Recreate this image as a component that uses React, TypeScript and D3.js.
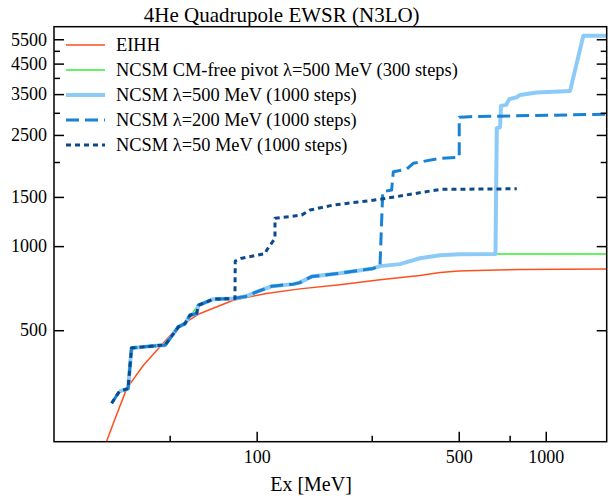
import { useEffect, useRef } from "react";
import * as d3 from "d3";

const W = 612;
const H = 498;
const PLOT = { left: 54, right: 606.7, top: 26.7, bottom: 441.7 };
const FONT = "Liberation Serif, DejaVu Serif, Times, serif";

// axis ticks
const xMajor = [100, 500, 1000];
const xMinor = [50, 250, 750];
const yMajor = [500, 1000, 1500, 2500, 3500, 4500, 5500];
const yMinor = [2000, 3000, 4000, 5000];

// [Ex MeV, EWSR]
const eihh = [
  [30.2, 199], [31.9, 232], [35.5, 309], [40.5, 374], [46.3, 436], [53.5, 514],
  [63.7, 574], [83, 640], [108, 677], [141, 703], [194, 728], [267, 758],
  [367, 785], [431, 805], [500, 814], [625, 820], [815, 825], [1626, 828],
];

const cmFree = [
  [33.5, 302], [35.9, 309], [36.9, 432], [46.9, 442], [48.2, 442], [53.6, 514],
  [56.5, 528], [62, 605], [62.8, 614], [70.8, 646], [83, 649], [92.3, 664],
  [100, 688], [113, 719], [134, 731], [141, 740], [155, 778], [194, 800],
  [253, 832], [267, 848], [313, 862], [367, 905], [431, 928], [505, 936],
  [668, 938], [1626, 938],
];

const ncsm500 = [
  [33.5, 302], [35.9, 309], [36.9, 432], [46.9, 442], [48.2, 442], [53.6, 514],
  [56.5, 528], [58.8, 566], [62, 574], [62.8, 614], [70.8, 646], [83, 649],
  [92.3, 662], [100, 686], [113, 719], [134, 731], [141, 740], [155, 778],
  [194, 800], [253, 832], [267, 848], [313, 862], [367, 905], [431, 928],
  [505, 936], [670, 938], [677, 2642], [695, 2663], [700, 3176], [729, 3202],
  [748, 3357], [794, 3412], [815, 3477], [931, 3544], [1214, 3594],
  [1349, 5658], [1626, 5658],
];

const ncsm200 = [
  [31.5, 274], [33.5, 302], [35.9, 309], [36.9, 432], [46.9, 442], [48.2, 442],
  [53.6, 514], [56.5, 528], [58.8, 566], [62, 574], [62.8, 614], [70.8, 646],
  [83, 649], [92.3, 662], [100, 686], [113, 719], [134, 731], [141, 740],
  [155, 778], [194, 800], [253, 832], [267, 850], [273, 1565], [293, 1588],
  [297, 1846], [330, 1883], [348, 1979], [431, 2062], [502, 2079],
  [502, 2893], [547, 2907], [1626, 2965],
];

const ncsm50 = [
  [31.5, 274], [33.5, 302], [35.9, 309], [36.9, 432], [46.9, 442], [48.2, 442],
  [53.6, 514], [56.5, 528], [58.8, 566], [62, 574], [62.8, 614], [70.8, 646],
  [84.1, 649], [84.3, 884], [88, 903], [107, 941], [108.3, 968], [115.7, 1066],
  [115.7, 1257], [143, 1291], [153, 1346], [184, 1403], [267, 1470],
  [431, 1596], [794, 1604],
];

const series = [
  { label: "EIHH", data: eihh, color: "#ff4f1f", width: 1.5, dash: null },
  { label: "NCSM CM-free pivot \u03bb=500 MeV (300 steps)", data: cmFree, color: "#33ee33", width: 1.5, dash: null },
  { label: "NCSM \u03bb=500 MeV (1000 steps)", data: ncsm500, color: "#8ccbf8", width: 4, dash: null },
  { label: "NCSM \u03bb=200 MeV (1000 steps)", data: ncsm200, color: "#1a82d2", width: 3, dash: "13,6" },
  { label: "NCSM \u03bb=50 MeV (1000 steps)", data: ncsm50, color: "#0d4a8c", width: 3, dash: "5,4" },
];

const xScale = d3.scaleLog().domain([19.9, 1625]).range([PLOT.left, PLOT.right]);
const yScale = d3.scaleLog().domain([199.5, 6100]).range([PLOT.bottom, PLOT.top]);

const line = d3
  .line<number[]>()
  .x((d) => xScale(d[0]))
  .y((d) => yScale(d[1]));

const App = () => {
  const axesRef = useRef<SVGGElement>(null);

  useEffect(() => {
    const g = d3.select(axesRef.current);
    g.selectAll("*").remove();

    const bottom = (vals: number[], size: number, labels: boolean) =>
      d3.axisBottom(xScale).tickValues(vals).tickSizeInner(-size).tickSizeOuter(0).tickPadding(9)
        .tickFormat(labels ? (d: any) => String(d) : () => "");
    const left = (vals: number[], size: number, labels: boolean) =>
      d3.axisLeft(yScale).tickValues(vals).tickSizeInner(-size).tickSizeOuter(0).tickPadding(7)
        .tickFormat(labels ? (d: any) => String(d) : () => "");
    const right = (vals: number[], size: number) =>
      d3.axisRight(yScale).tickValues(vals).tickSizeInner(-size).tickSizeOuter(0).tickFormat(() => "");

    const add = (axis: any, tx: number, ty: number) => {
      const a = g.append("g").attr("transform", `translate(${tx},${ty})`).call(axis);
      a.select(".domain").remove();
      a.selectAll("line").attr("stroke", "#000").attr("stroke-width", 1.5);
      a.selectAll("text").attr("fill", "#000").style("font-family", FONT).style("font-size", "18px");
    };

    add(bottom(xMajor, 10, true), 0, PLOT.bottom);
    add(bottom(xMinor, 6, false), 0, PLOT.bottom);
    add(left(yMajor, 10, true), PLOT.left, 0);
    add(left(yMinor, 6, false), PLOT.left, 0);
    add(right(yMajor, 10), PLOT.right, 0);
    add(right(yMinor, 6), PLOT.right, 0);
  }, []);

  const textStyle = { fontFamily: FONT };

  return (
    <svg width={W} height={H} style={{ position: "absolute", left: 0, top: 0, background: "#fff" }}>
      <defs>
        <clipPath id="plot-clip">
          <rect x={PLOT.left} y={PLOT.top} width={PLOT.right - PLOT.left} height={PLOT.bottom - PLOT.top} />
        </clipPath>
      </defs>
      <g clipPath="url(#plot-clip)">
        {series.map((s, i) => (
          <path
            key={i}
            d={line(s.data) || ""}
            fill="none"
            stroke={s.color}
            strokeWidth={s.width}
            strokeDasharray={s.dash || undefined}
            strokeLinejoin="round"
          />
        ))}
      </g>
      <rect
        x={PLOT.left}
        y={PLOT.top}
        width={PLOT.right - PLOT.left}
        height={PLOT.bottom - PLOT.top}
        fill="none"
        stroke="#000"
        strokeWidth={1.5}
      />
      <g ref={axesRef} />
      {series.map((s, i) => (
        <g key={i} transform={`translate(0,${45 + i * 25})`}>
          <line x1={66} x2={105} y1={0} y2={0} stroke={s.color} strokeWidth={s.width} strokeDasharray={s.dash || undefined} />
          <text x={116} y={6} style={textStyle} fontSize={18.4} fill="#000">{s.label}</text>
        </g>
      ))}
      <text x={281.7} y={21.5} textAnchor="middle" style={textStyle} fontSize={21} fill="#000">
        4He Quadrupole EWSR (N3LO)
      </text>
      <text x={311} y={490.5} textAnchor="middle" style={textStyle} fontSize={20} fill="#000">
        Ex [MeV]
      </text>
    </svg>
  );
};

export default App;
